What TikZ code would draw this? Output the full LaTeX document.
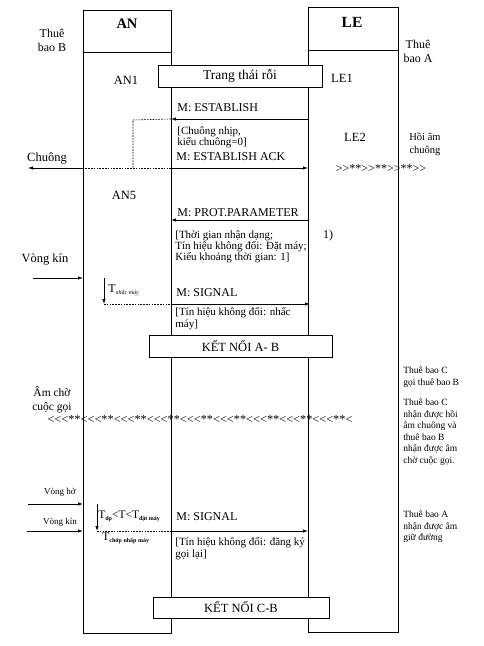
\documentclass[tikz,border=0pt]{standalone}
\usepackage{fontspec}
\setmainfont{Liberation Serif}
\usetikzlibrary{arrows.meta}
\newcommand\mysub[1]{\raisebox{-1.8pt}{\fontsize{6}{6}\selectfont #1}}
\newcommand\fs[2]{\fontsize{#1}{#2}\selectfont}
\begin{document}
\begin{tikzpicture}[x=1pt,y=-1pt,line width=0.7pt,
  msg/.style={-{Latex[length=5pt,width=3.4pt]}},
  dashline/.style={dash pattern=on 1.6pt off 1.2pt, line width=0.6pt},
  colbox/.style={draw, fill=white, inner sep=0pt},
  statebox/.style={draw, fill=white, inner sep=0pt, font=\fs{12.5}{14}},
  lbl/.style={inner sep=0pt, font=\fs{12}{14}},
  note/.style={inner sep=0pt, anchor=west, align=left, font=\fs{11}{11}},
  side/.style={inner sep=0pt, anchor=west, align=left, font=\fs{9.5}{11.5}},
  small/.style={inner sep=0pt, font=\fs{9}{10}}]
\useasboundingbox (0,0) rectangle (484,646);
% columns
\node[colbox, minimum width=88pt, minimum height=623pt, anchor=north west] (anCol) at (83,10) {};
\node[colbox, minimum width=90pt, minimum height=625pt, anchor=north west] (leCol) at (308,7) {};
\draw (83,52) -- (171,52);
\draw (308,50) -- (398,50);
\node[lbl, font=\fs{14.5}{16}\bfseries] (anT) at (127,24) {AN};
\node[lbl, font=\fs{15.5}{17}\bfseries] (leT) at (352,22) {LE};
\node[lbl, align=center] (tbB) at (52,40) {Thuê\\bao B};
\node[lbl, align=center] (tbA) at (418,51) {Thuê\\bao A};
% state boxes
\node[statebox, minimum width=164pt, minimum height=22pt, font=\fs{13.5}{15}] (idle) at (240,76) {Trang thái rỗi};
\node[lbl, font=\fs{12.5}{14}] (an1) at (126,80) {AN1};
\node[lbl, font=\fs{12.5}{14}] (le1) at (342,78) {LE1};
% M: ESTABLISH
\node[lbl, anchor=west] (mest) at (177,108) {M: ESTABLISH};
\coordinate (e1a) at (308,119);
\coordinate (e1b) at (171,119);
\draw[msg] (e1a) -- (e1b);
\coordinate (d1) at (133,120);
\coordinate (d2) at (133,168);
\coordinate (ack1) at (171,168);
\coordinate (ack2) at (308,168);
\coordinate (d3) at (83,168);
\coordinate (chu) at (28,168);
\draw[dashline] (e1b) -- (d1) -- (d2);
\draw[dashline] (ack1) -- (d3);
\draw[msg] (d3) -- (chu);
\draw[msg] (ack1) -- (ack2);
\node[note] (n1) at (177,137.5) {[Chuông nhịp,\\ kiểu chuông=0]};
\node[lbl, anchor=west] (mack) at (176,157) {M: ESTABLISH ACK};
\node[lbl, font=\fs{12.5}{14}] (chuong) at (47,158) {Chuông};
\node[lbl, font=\fs{12.5}{14}] (le2) at (355,137) {LE2};
\node[lbl, align=center, font=\fs{10.5}{13}] (hoi) at (425,144.5) {Hồi âm\\chuông};
\node[lbl] (ring) at (381,169) {>{}>**>{}>**>{}>**>{}>};
\node[lbl, font=\fs{12.5}{14}] (an5) at (124,195) {AN5};
% PROT.PARAMETER
\node[lbl, anchor=west] (mprot) at (177,213) {M: PROT.PARAMETER};
\coordinate (p1) at (308,220);
\coordinate (p2) at (171,220);
\draw[msg] (p1) -- (p2);
\node[note] (n2) at (175,247) {[Thời gian nhận dạng;\\Tín hiệu không đổi: Đặt máy;\\Kiểu khoảng thời gian: 1]};
\node[lbl] (one) at (328,236) {1)};
% Vong kin 1
\node[lbl, font=\fs{12.5}{14}] (vk1) at (45,259) {Vòng kín};
\coordinate (vk1a) at (33,278);
\coordinate (vk1b) at (83,278);
\draw[msg] (vk1a) -- (vk1b);
\coordinate (t1a) at (104,278);
\coordinate (t1b) at (104,304);
\draw[msg] (t1a) -- (t1b);
\node[lbl, anchor=west] (tn) at (108,290) {T\mysub{\itshape nhấc máy}};
\coordinate (s1a) at (171,304);
\coordinate (s1b) at (310,304);
\draw[dashline] (t1b) -- (s1a);
\draw[msg] (s1a) -- (s1b);
\node[lbl, anchor=west] (msig1) at (176,293) {M: SIGNAL};
\node[note, font=\fs{11}{12.5}] (n3) at (175,318.5) {[Tín hiệu không đổi: nhấc\\máy]};
% KET NOI A-B
\node[statebox, minimum width=183pt, minimum height=22pt] (kab) at (240.5,346) {KẾT NỐI A- B};
\node[side] (c1) at (403,377) {Thuê bao C\\gọi thuê bao B};
\node[side] (c2) at (403,432) {Thuê bao C\\nhận được hồi\\âm chuông và\\thuê bao B\\nhận được âm\\chờ cuộc gọi.};
\node[lbl, align=center, font=\fs{11.5}{14}] (amcho) at (52,400) {Âm chờ\\cuộc gọi};
\node[lbl, font=\fs{12.3}{14}] (wait) at (200,419) {<{}<{}<**<{}<{}<**<{}<{}<**<{}<{}<**<{}<{}<**<{}<{}<**<{}<{}<**<{}<{}<**<{}<{}<**<};
% lower part
\node[small] (vh) at (60,492) {Vòng hở};
\coordinate (vha) at (28,504);
\coordinate (vhb) at (83,504);
\draw[msg] (vha) -- (vhb);
\node[small] (vk2) at (60,522) {Vòng kín};
\coordinate (vk2a) at (27,531);
\coordinate (vk2b) at (83,531);
\draw[msg] (vk2a) -- (vk2b);
\coordinate (t2a) at (97,504);
\coordinate (t2b) at (97,531);
\draw[msg] (t2a) -- (t2b);
\node[lbl, anchor=west, font=\fs{11.5}{13}] (tdp) at (98,516) {T\mysub{\bfseries dp}<T<T\mysub{\bfseries đặt máy}};
\node[lbl, anchor=west, font=\fs{11.5}{13}] (tch) at (102,538) {T\mysub{\bfseries chớp nhấp máy}};
\coordinate (s2a) at (171,531);
\coordinate (s2b) at (308,531);
\draw[dashline] (t2b) -- (s2a);
\draw[msg] (s2a) -- (s2b);
\node[lbl, anchor=west] (msig2) at (176,517) {M: SIGNAL};
\node[note, font=\fs{11}{12}] (n4) at (175,549) {[Tín hiệu không đổi: đăng ký\\gọi lại]};
\node[side] (a1) at (403,527) {Thuê bao A\\nhận được âm\\giữ đường};
\node[statebox, minimum width=176pt, minimum height=21pt] (kcb) at (241,607.5) {KẾT NỐI C-B};
\end{tikzpicture}
\end{document}
